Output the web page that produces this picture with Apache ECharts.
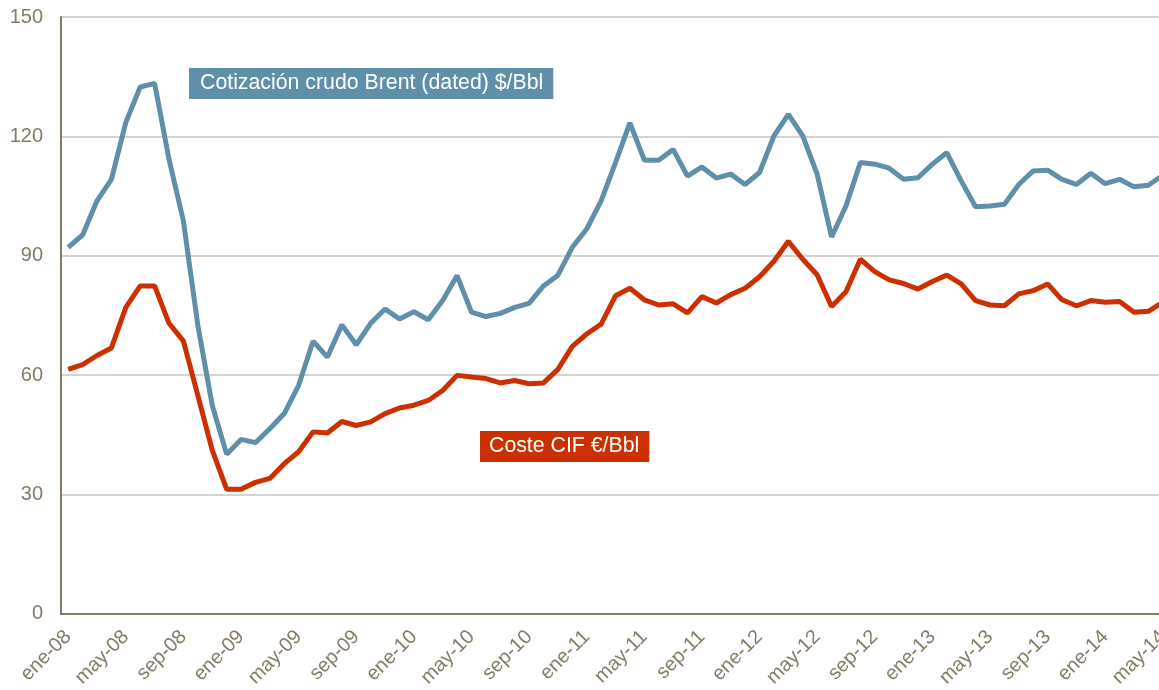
<!DOCTYPE html>
<html>
<head>
<meta charset="utf-8">
<script src="https://cdn.jsdelivr.net/npm/echarts@6/dist/echarts.min.js"></script>
<style>
  html, body { margin: 0; padding: 0; background: #fff; overflow: hidden; }
  /* el gráfico original está recortado por la derecha */
  #container { width: 1172px; height: 690px; }
</style>
</head>
<body>
<div id="container"></div>
<script>
var meses = ['ene', 'feb', 'mar', 'abr', 'may', 'jun', 'jul', 'ago', 'sep', 'oct', 'nov', 'dic'];
var anios = ['08', '09', '10', '11', '12', '13', '14'];
var numMeses = 77; // ene-08 .. may-14

var yTicks = [0, 30, 60, 90, 120, 150];

var brent = [
  92.1, 95.2, 103.8, 109.2, 123.5, 132.4, 133.3, 114.2, 98.7, 72.5, 52.4, 40.1,
  43.8, 43.0, 46.5, 50.3, 57.4, 68.5, 64.5, 72.6, 67.6, 73.0, 76.6, 74.1,
  75.9, 73.9, 78.7, 85.0, 75.8, 74.7, 75.5, 77.0, 78.0, 82.4, 85.1, 92.1,
  96.7, 103.8, 113.4, 123.4, 114.0, 114.0, 116.7, 110.0, 112.3, 109.5, 110.5, 107.9,
  110.9, 120.1, 125.5, 120.1, 110.5, 94.7, 102.5, 113.4, 113.0, 112.0, 109.2, 109.6,
  113.0, 115.9, 108.8, 102.3, 102.5, 102.9, 107.9, 111.3, 111.5, 109.2, 107.9, 110.7,
  108.1, 109.2, 107.3, 107.7, 110.2
];

var costeCif = [
  61.4, 62.6, 64.9, 66.8, 77.0, 82.4, 82.4, 73.0, 68.5, 54.9, 41.1, 31.3,
  31.3, 33.0, 34.0, 37.7, 40.7, 45.7, 45.4, 48.3, 47.3, 48.2, 50.3, 51.7,
  52.4, 53.6, 56.1, 59.9, 59.5, 59.1, 58.0, 58.6, 57.8, 58.0, 61.4, 67.2,
  70.3, 72.8, 79.9, 81.8, 78.9, 77.6, 77.9, 75.6, 79.7, 78.1, 80.2, 81.8,
  84.7, 88.6, 93.6, 89.1, 85.2, 77.2, 80.9, 89.1, 86.0, 83.9, 83.0, 81.6,
  83.5, 85.1, 82.9, 78.7, 77.6, 77.4, 80.4, 81.2, 82.9, 78.9, 77.4, 78.7,
  78.3, 78.5, 75.8, 76.0, 78.3
];

var categorias = [];
for (var i = 0; i < numMeses; i++) {
  categorias.push(meses[i % 12] + '-' + anios[Math.floor(i / 12)]);
}

var AZUL = '#5f8fa9';
var ROJO = '#cc3000';
var GRIS = '#857b66';

var myChart = echarts.init(document.getElementById('container'));
var option = {
  animation: false,
  textStyle: { fontFamily: 'Liberation Sans, Arial, sans-serif' },
  grid: { left: 61, right: 1, top: 17, bottom: 74.5, containLabel: false },
  xAxis: {
    type: 'category',
    boundaryGap: true,
    data: categorias,
    axisLine: { lineStyle: { color: GRIS, width: 2 } },
    axisTick: { show: false },
    axisLabel: {
      interval: 3,
      rotate: 45,
      margin: 20,
      color: GRIS,
      fontSize: 20
    }
  },
  yAxis: {
    type: 'value',
    min: yTicks[0],
    max: yTicks[yTicks.length - 1],
    interval: 30,
    axisLine: { show: true, lineStyle: { color: GRIS, width: 2 } },
    axisTick: { show: false },
    axisLabel: { color: GRIS, fontSize: 20, margin: 18 },
    splitLine: { lineStyle: { color: '#c9c5bf', width: 1.5 } }
  },
  series: [
    {
      name: 'Cotización crudo Brent (dated) $/Bbl',
      type: 'line',
      data: brent,
      symbol: 'none',
      lineStyle: { color: AZUL, width: 5 },
      z: 3
    },
    {
      name: 'Coste CIF €/Bbl',
      type: 'line',
      data: costeCif,
      symbol: 'none',
      lineStyle: { color: ROJO, width: 5 },
      z: 4
    }
  ],
  graphic: [
    {
      type: 'text',
      left: 189,
      top: 68,
      z: 10,
      style: {
        text: 'Cotización crudo Brent (dated) $/Bbl',
        fill: '#fff',
        font: '21.3px "Liberation Sans", Arial, sans-serif',
        backgroundColor: AZUL,
        padding: [5, 10, 5, 11]
      }
    },
    {
      type: 'text',
      left: 480,
      top: 431,
      z: 10,
      style: {
        text: 'Coste CIF €/Bbl',
        fill: '#fff',
        font: '21.3px "Liberation Sans", Arial, sans-serif',
        backgroundColor: ROJO,
        padding: [5, 10, 5, 9]
      }
    }
  ]
};
myChart.setOption(option);
</script>
</body>
</html>
